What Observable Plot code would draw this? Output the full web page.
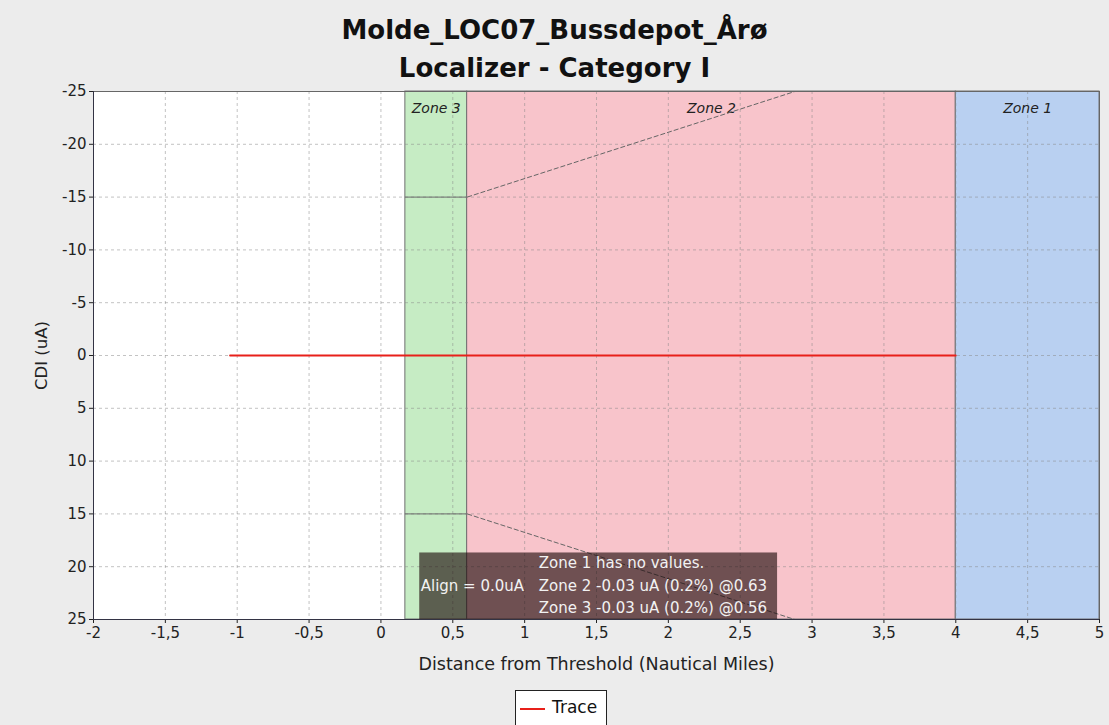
<!DOCTYPE html>
<html>
<head>
<meta charset="utf-8">
<script src="https://cdn.jsdelivr.net/npm/d3@7"></script>
<script src="https://cdn.jsdelivr.net/npm/@observablehq/plot@0.6"></script>
<style>
  html, body { margin: 0; padding: 0; background: #ececec; width: 1109px; height: 725px; overflow: hidden; font-family: "DejaVu Sans", sans-serif; }
  .t { position: absolute; left: 0; width: 1109px; text-align: center; font-weight: bold; font-size: 26px; color: #111; line-height: 30px; }
  #chart { position: absolute; left: 0; top: 78px; }
  #legend { position: absolute; left: 515px; top: 690px; width: 92px; height: 40px; border: 1px solid #222; background: #fff; box-sizing: border-box; }
  #legend .sw { position: absolute; left: 4px; top: 17px; width: 25px; height: 2px; background: #e8201a; }
  #legend .lb { position: absolute; left: 36px; top: 6px; font-size: 17px; color: #111; }
</style>
</head>
<body>
<div class="t" style="top:15px">Molde_LOC07_Bussdepot_Årø</div>
<div class="t" style="top:53px">Localizer - Category I</div>
<div id="chart"></div>
<div id="legend"><div class="sw"></div><div class="lb">Trace</div></div>
<script>
// ---- data ----
const xTicks = [-2, -1.5, -1, -0.5, 0, 0.5, 1, 1.5, 2, 2.5, 3, 3.5, 4, 4.5, 5];
const yTicks = [-25, -20, -15, -10, -5, 0, 5, 10, 15, 20, 25];
const zoneNames = ["Zone 3", "Zone 2", "Zone 1"];
const zoneStart = [0.17, 0.6, 4.0];
const zoneEnd = [0.6, 4.0, 5.0];
const traceX = [-1.05, 4.0];
const traceY = [0, 0];
const zone3LimitX = [0.17, 0.6];
const zone3LimitY = [15, -15];
const zone2LimitX0 = [0.6, 0.6];
const zone2LimitY0 = [-15, 15];
const zone2LimitX1 = [2.88, 2.88];
const zone2LimitY1 = [-25, 25];
const infoBoxX = [0.27, 2.76];
const infoBoxY = [18.7, 25];
const alignText = "Align = 0.0uA";
const infoLines = ["Zone 1 has no values.", "Zone 2 -0.03 uA (0.2%) @0.63", "Zone 3 -0.03 uA (0.2%) @0.56"];

// ---- styles ----
const zoneFill = {"Zone 3": "#c6ecc4", "Zone 2": "#f8c4cb", "Zone 1": "#b9d0f1"};
const fmt = d => String(d).replace(".", ",");
const font = "DejaVu Sans, sans-serif";

const zones = zoneNames.map((z, i) => ({z, x1: zoneStart[i], x2: zoneEnd[i]}));
const trace = traceX.map((x, i) => ({x, y: traceY[i]}));
const z3 = zone3LimitY.map(y => ({x1: zone3LimitX[0], x2: zone3LimitX[1], y}));
const z2 = zone2LimitX0.map((x, i) => ({x1: x, y1: zone2LimitY0[i], x2: zone2LimitX1[i], y2: zone2LimitY1[i]}));
const box = [{x1: infoBoxX[0], x2: infoBoxX[1], y1: infoBoxY[0], y2: infoBoxY[1]}];
const boxMid = (infoBoxY[0] + infoBoxY[1]) / 2;
const infoStyle = {x: infoBoxX[0], y: boxMid, text: d => d, textAnchor: "start", fill: "#f2f2f2", fontFamily: font, fontSize: 15};
const rowOffsets = [-23, 0, 22];

const chart = Plot.plot({
  width: 1109,
  height: 607,
  marginTop: 13,
  marginBottom: 66,
  marginLeft: 93,
  marginRight: 10,
  style: {fontFamily: font, fontSize: "15px", background: "transparent", color: "#222"},
  x: {domain: [-2, 5], ticks: xTicks, tickFormat: fmt, tickSize: 4, label: null},
  y: {domain: [25, -25], ticks: yTicks, tickFormat: fmt, tickSize: 4, label: null},
  marks: [
    Plot.frame({fill: "#ffffff"}),
    Plot.rectX(zones, {x1: "x1", x2: "x2", y1: -25, y2: 25, fill: d => zoneFill[d.z], stroke: "#707070", strokeWidth: 1}),
    Plot.ruleX(xTicks, {stroke: "#888", strokeOpacity: 0.5, strokeDasharray: "3,3"}),
    Plot.ruleY(yTicks, {stroke: "#888", strokeOpacity: 0.5, strokeDasharray: "3,3"}),
    Plot.text(zones, {x: d => (d.x1 + d.x2) / 2, y: -23.4, text: "z", fontStyle: "italic", fontSize: 14, fill: "#222"}),
    Plot.ruleY(z3, {x1: "x1", x2: "x2", y: "y", stroke: "#6a6a6a", strokeWidth: 1}),
    Plot.link(z2, {x1: "x1", y1: "y1", x2: "x2", y2: "y2", stroke: "#666", strokeWidth: 1, strokeDasharray: "5,2"}),
    Plot.line(trace, {x: "x", y: "y", stroke: "#e8201a", strokeWidth: 1.8}),
    Plot.rect(box, {x1: "x1", x2: "x2", y1: "y1", y2: "y2", fill: "#1c0808", fillOpacity: 0.62}),
    Plot.text([alignText], {...infoStyle, dx: 1}),
    ...infoLines.map((t, i) => Plot.text([t], {...infoStyle, dx: 119, dy: rowOffsets[i]})),
    Plot.frame({stroke: "#666"}),
    Plot.axisX({ticks: xTicks, tickFormat: fmt, tickSize: 4, fontSize: 15, tickPadding: 4}),
    Plot.axisY({ticks: yTicks, tickFormat: fmt, tickSize: 4, fontSize: 15, tickPadding: 3}),
    Plot.ruleX([-2], {stroke: "#334"}),
    Plot.ruleY([25], {stroke: "#334"}),
    Plot.text(["Distance from Threshold (Nautical Miles)"], {frameAnchor: "bottom", textAnchor: "middle", lineAnchor: "middle", dy: 45, text: d => d, fontSize: 17.5, fill: "#222"}),
    Plot.text(["CDI (uA)"], {frameAnchor: "left", textAnchor: "middle", lineAnchor: "middle", dx: -52, rotate: -90, text: d => d, fontSize: 16.5, fill: "#222"})
  ]
});
document.getElementById("chart").appendChild(chart);
</script>
</body>
</html>
